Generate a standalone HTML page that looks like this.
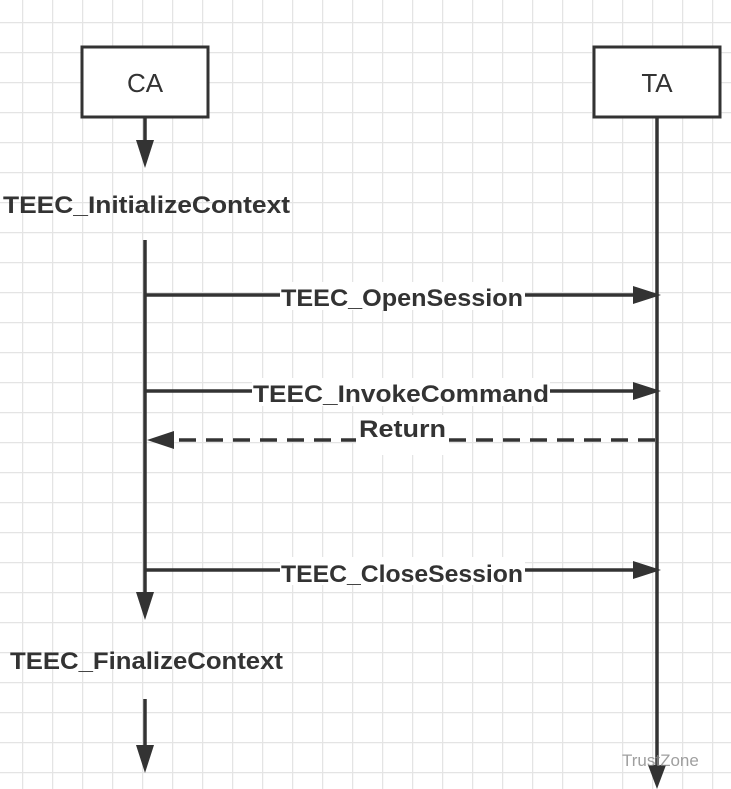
<!DOCTYPE html>
<html><head><style>html,body{margin:0;padding:0;background:#fff}svg{display:block}</style></head>
<body>
<svg width="731" height="789" viewBox="0 0 731 789" xmlns="http://www.w3.org/2000/svg">
<defs>
<pattern id="g" x="22" y="22" width="30" height="30" patternUnits="userSpaceOnUse">
<path d="M0 0V30M0 0H30" stroke="#e4e4e4" stroke-width="2.5" fill="none"/>
</pattern>
</defs>
<rect width="731" height="789" fill="#fff"/>
<rect width="731" height="789" fill="url(#g)"/>
<g stroke="#333" stroke-width="3" fill="#fff">
<rect x="82" y="47" width="126" height="70"/>
<rect x="594" y="47" width="126" height="70"/>
</g>
<g font-family="'Liberation Sans',sans-serif" font-size="26" fill="#333" text-anchor="middle">
<text x="145" y="92">CA</text><text x="657" y="92">TA</text>
</g>
<g stroke="#333" stroke-width="3.5" fill="none">
<line x1="145" y1="117" x2="145" y2="145"/>
<line x1="145" y1="240" x2="145" y2="598"/>
<line x1="145" y1="699" x2="145" y2="752"/>
<line x1="657" y1="117" x2="657" y2="770"/>
<line x1="145" y1="295" x2="640" y2="295"/>
<line x1="145" y1="391" x2="640" y2="391"/>
<line x1="145" y1="570" x2="640" y2="570"/>
<line x1="655" y1="440" x2="170" y2="440" stroke-dasharray="17,10"/>
</g>
<g fill="#333">
<polygon points="136,140 154,140 145,168"/>
<polygon points="136,592 154,592 145,620"/>
<polygon points="136,745 154,745 145,773"/>
<polygon points="648,765 666,765 657,789"/>
<polygon points="633,286 633,304 661,295"/>
<polygon points="633,382 633,400 661,391"/>
<polygon points="633,561 633,579 661,570"/>
<polygon points="174,431 174,449 147,440"/>
</g>
<g fill="#fff">
<rect x="280" y="282" width="245" height="28"/>
<rect x="252" y="378" width="298" height="28"/>
<rect x="356" y="415" width="93" height="40"/>
<rect x="280" y="557" width="245" height="28"/>
</g>
<g font-family="'Liberation Sans',sans-serif" font-size="24" font-weight="bold" fill="#333" lengthAdjust="spacingAndGlyphs">
<text x="3" y="213" textLength="287" lengthAdjust="spacingAndGlyphs">TEEC_InitializeContext</text>
<text x="281" y="306" textLength="242" lengthAdjust="spacingAndGlyphs">TEEC_OpenSession</text>
<text x="253" y="402" textLength="296" lengthAdjust="spacingAndGlyphs">TEEC_InvokeCommand</text>
<text x="359" y="437" textLength="87" lengthAdjust="spacingAndGlyphs">Return</text>
<text x="281" y="582" textLength="242" lengthAdjust="spacingAndGlyphs">TEEC_CloseSession</text>
<text x="10" y="669" textLength="273" lengthAdjust="spacingAndGlyphs">TEEC_FinalizeContext</text>
</g>
<text x="622" y="766" font-family="'Liberation Sans',sans-serif" font-size="17" fill="#888" opacity="0.8">TrustZone</text>
</svg>
</body></html>
